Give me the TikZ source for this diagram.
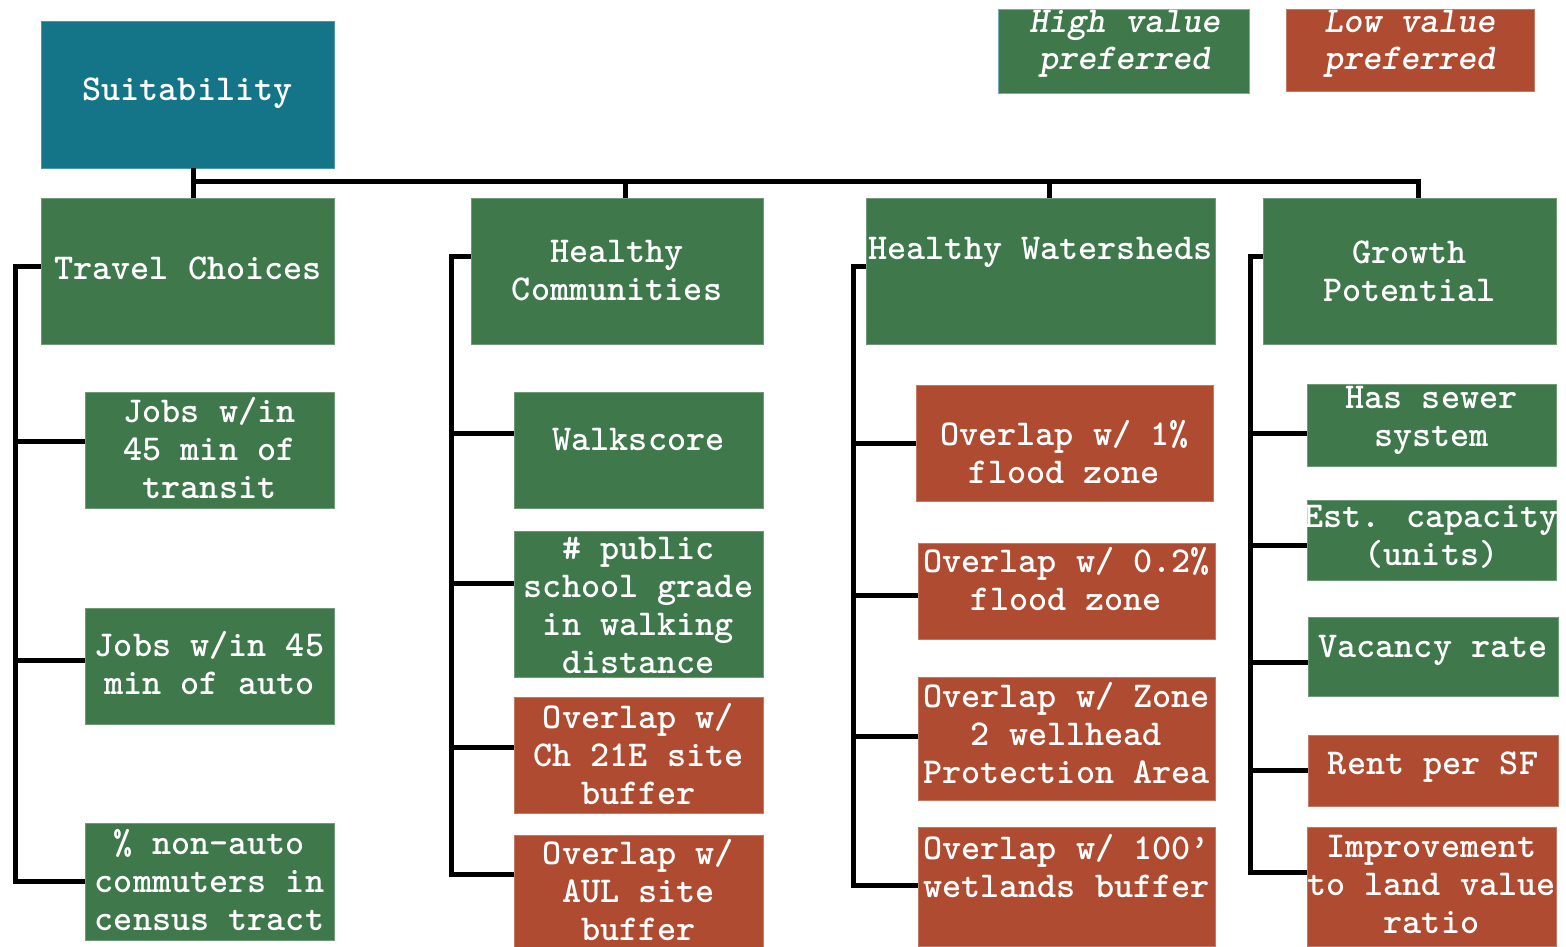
\documentclass[tikz,border=0pt]{standalone}
\usepackage{fontspec}
\newfontfamily\boxfont{lmmonolt10-bold.otf}
\newfontfamily\boxfontit{lmmonolt10-boldoblique.otf}
\definecolor{tealc}{HTML}{137587}
\definecolor{greenc}{HTML}{3E784B}
\definecolor{orangec}{HTML}{AF4B30}
\begin{document}
\begin{tikzpicture}[x=1pt,y=-1pt,
  box/.style={rectangle, inner sep=0pt, outer sep=0pt, anchor=north west, fill=#1, draw=#1!75!white, line width=0.8pt},
  txt/.style={text=white, font=\boxfont\fontsize{36.4}{38}\selectfont, align=center, inner sep=0pt},
  itxt/.style={text=white, font=\boxfontit\fontsize{36.4}{37}\selectfont, align=center, inner sep=0pt},
  conn/.style={draw=black, line width=5pt, line join=miter}]
\useasboundingbox (0,0) rectangle (1566,946);
% boxes
\node[box=tealc, minimum width=293pt, minimum height=147pt] (suit) at (41,21) {};
\node[box=greenc, draw=tealc!60!white, minimum width=251pt, minimum height=84pt] (lh) at (998,9) {};
\node[box=orangec, minimum width=248pt, minimum height=82pt] (ll) at (1286,9) {};
\node[box=greenc, minimum width=293pt, minimum height=146pt] (tc) at (41,198) {};
\node[box=greenc, minimum width=292pt, minimum height=146pt] (hc) at (471,198) {};
\node[box=greenc, minimum width=349pt, minimum height=146pt] (hw) at (866,198) {};
\node[box=greenc, minimum width=293pt, minimum height=146pt] (gp) at (1263,198) {};
\node[box=greenc, minimum width=249pt, minimum height=116pt] (c11) at (85,392) {};
\node[box=greenc, minimum width=249pt, minimum height=116pt] (c12) at (85,608) {};
\node[box=greenc, minimum width=249pt, minimum height=117pt] (c13) at (85,823) {};
\node[box=greenc, minimum width=249pt, minimum height=116pt] (c21) at (514,392) {};
\node[box=greenc, minimum width=249pt, minimum height=146pt] (c22) at (514,531) {};
\node[box=orangec, minimum width=249pt, minimum height=116pt] (c23) at (514,697) {};
\node[box=orangec, minimum width=249pt, minimum height=115pt] (c24) at (514,835) {};
\node[box=orangec, minimum width=297pt, minimum height=116pt] (c31) at (916,385) {};
\node[box=orangec, minimum width=297pt, minimum height=96pt] (c32) at (918,543) {};
\node[box=orangec, minimum width=297pt, minimum height=123pt] (c33) at (918,677) {};
\node[box=orangec, minimum width=297pt, minimum height=119pt] (c34) at (918,827) {};
\node[box=greenc, minimum width=249pt, minimum height=82pt] (c41) at (1307,384) {};
\node[box=greenc, minimum width=249pt, minimum height=80pt] (c42) at (1307,500) {};
\node[box=greenc, minimum width=250pt, minimum height=79pt] (c43) at (1308,617) {};
\node[box=orangec, minimum width=250pt, minimum height=71pt] (c44) at (1308,735) {};
\node[box=orangec, minimum width=249pt, minimum height=119pt] (c45) at (1307,827) {};
% texts
\node[txt] (tsuit) at (187.5,93) {Suitability};
\node[itxt] (tlh) at (1125,44) {High value\\preferred};
\node[itxt] (tll) at (1410,44) {Low value\\preferred};
\node[txt] (ttc) at (188,268) {Travel Choices};
\node[txt] (thc) at (617,271) {Healthy\\Communities};
\node[txt] (thw) at (1040.5,252) {Healthy Watersheds};
\node[txt] (tgp) at (1409.5,271) {Growth\\Potential};
\node[txt] (t11) at (209.5,448) {Jobs w/in\\45 min of\\transit};
\node[txt] (t12) at (209.5,663) {Jobs w/in 45\\min of auto};
\node[txt] (t13) at (209.5,880) {\% non-auto\\commuters in\\census tract};
\node[txt] (t21) at (638.5,440) {Walkscore};
\node[txt] (t22) at (638.5,605) {\# public\\school grade\\in walking\\distance};
\node[txt] (t23) at (638.5,754) {Overlap w/\\Ch 21E site\\buffer};
\node[txt] (t24) at (638.5,890) {Overlap w/\\AUL site\\buffer};
\node[txt] (t31) at (1064.5,452) {Overlap w/ 1\%\\flood zone};
\node[txt] (t32) at (1066.5,579) {Overlap w/ 0.2\%\\flood zone};
\node[txt] (t33) at (1066.5,733) {Overlap w/ Zone\\2 wellhead\\Protection Area};
\node[txt] (t34) at (1066.5,866) {Overlap w/ 100’\\wetlands buffer};
\node[txt] (t41) at (1431.5,420) {Has sewer\\system};
\node[txt] (t42) at (1431.5,537) {Est. capacity\\(units)};
\node[txt] (t43) at (1433,650) {Vacancy rate};
\node[txt] (t44) at (1433,767) {Rent per SF};
\node[txt] (t45) at (1431.5,884) {Improvement\\to land value\\ratio};
% top bus
\coordinate (bus) at (0,181);
\coordinate (d0) at ([xshift=5.5pt]suit.south);
\coordinate (d1) at ([xshift=5.5pt]tc.north);
\coordinate (d2) at ([xshift=8pt]hc.north);
\coordinate (d3) at ([xshift=8.5pt]hw.north);
\coordinate (d4) at ([xshift=8.5pt]gp.north);
\draw[conn] (d0) -- (d1);
\draw[conn] (d1 |- bus) -- (d4 |- bus) -- (d4);
\draw[conn] (d2 |- bus) -- (d2);
\draw[conn] (d3 |- bus) -- (d3);
% spines
\coordinate (s1) at (15,0);
\coordinate (s2) at (451,0);
\coordinate (s3) at (853,0);
\coordinate (s4) at (1250,0);
% column 1
\coordinate (p1) at ([yshift=5pt]tc.west);
\coordinate (b11) at ([yshift=9pt]c11.west);
\coordinate (b12) at ([yshift=6pt]c12.west);
\coordinate (b13) at (c13.west);
\draw[conn] (p1) -- (s1 |- p1) -- (s1 |- b13) -- (b13);
\draw[conn] (s1 |- b11) -- (b11);
\draw[conn] (s1 |- b12) -- (b12);
% column 2
\coordinate (p2) at ([yshift=15pt]hc.west);
\coordinate (b21) at ([yshift=17pt]c21.west);
\coordinate (b22) at ([yshift=21pt]c22.west);
\coordinate (b23) at ([yshift=8pt]c23.west);
\coordinate (b24) at ([yshift=18.5pt]c24.west);
\draw[conn] (p2) -- (s2 |- p2) -- (s2 |- b24) -- (b24);
\draw[conn] (s2 |- b21) -- (b21);
\draw[conn] (s2 |- b22) -- (b22);
\draw[conn] (s2 |- b23) -- (b23);
% column 3
\coordinate (p3) at ([yshift=5pt]hw.west);
\coordinate (b31) at (c31.west);
\coordinate (b32) at ([yshift=-4pt]c32.west);
\coordinate (b33) at ([yshift=2.5pt]c33.west);
\coordinate (b34) at ([yshift=1.5pt]c34.west);
\draw[conn] (p3) -- (s3 |- p3) -- (s3 |- b34) -- (b34);
\draw[conn] (s3 |- b31) -- (b31);
\draw[conn] (s3 |- b32) -- (b32);
\draw[conn] (s3 |- b33) -- (b33);
% column 4
\coordinate (p4) at ([yshift=15pt]gp.west);
\coordinate (b41) at ([yshift=-8pt]c41.west);
\coordinate (b42) at ([yshift=-5pt]c42.west);
\coordinate (b43) at ([yshift=-5.5pt]c43.west);
\coordinate (b44) at (c44.west);
\coordinate (b45) at ([yshift=14.5pt]c45.west);
\draw[conn] (p4) -- (s4 |- p4) -- (s4 |- b45) -- (b45);
\draw[conn] (s4 |- b41) -- (b41);
\draw[conn] (s4 |- b42) -- (b42);
\draw[conn] (s4 |- b43) -- (b43);
\draw[conn] (s4 |- b44) -- (b44);
\end{tikzpicture}
\end{document}
